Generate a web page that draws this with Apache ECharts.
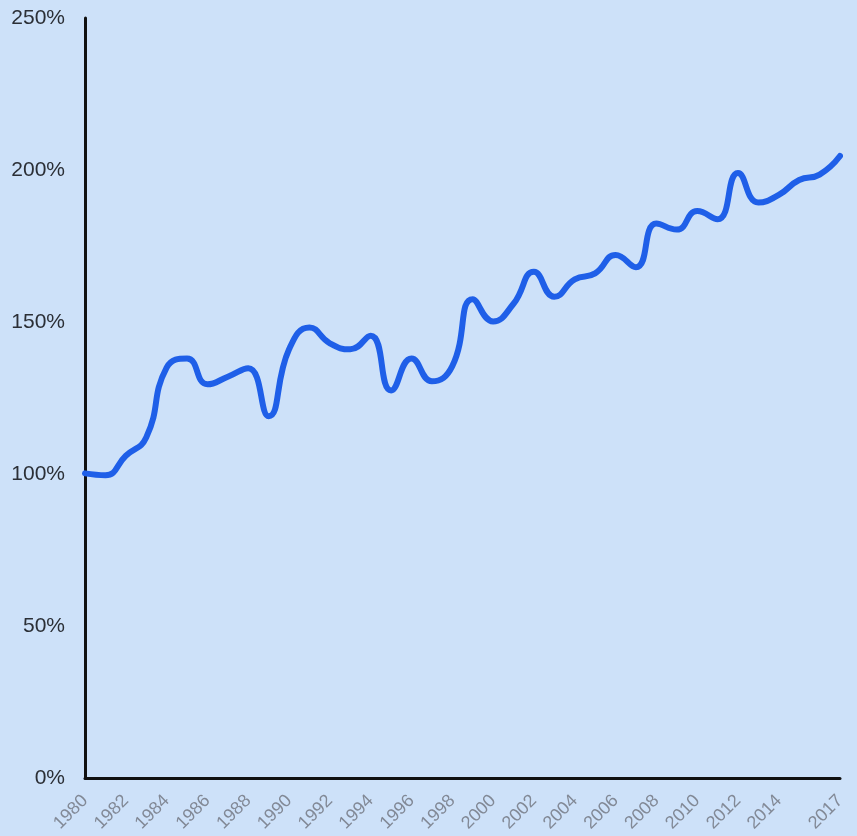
<!DOCTYPE html>
<html>
<head>
<meta charset="utf-8">
<script src="https://cdn.jsdelivr.net/npm/echarts@6/dist/echarts.min.js"></script>
<style>
html,body{margin:0;padding:0;background:#cde1f9;}
#chart{width:857px;height:836px;}
</style>
</head>
<body>
<div id="chart"></div>
<script>
const years = ['1980','1981','1982','1983','1984','1985','1986','1987','1988','1989',
  '1990','1991','1992','1993','1994','1995','1996','1997','1998','1999',
  '2000','2001','2002','2003','2004','2005','2006','2007','2008','2009',
  '2010','2011','2012','2013','2014','2015','2016','2017'];
const values = [100.2, 99.6, 106, 112, 135, 138, 129.5, 132, 134.8, 119,
  141, 148.2, 143, 141, 145.5, 127.5, 138, 130.5, 135.5, 157.5,
  150.2, 156, 166.5, 158.3, 164, 166, 172, 168, 182.4, 180.4,
  186.5, 183.8, 199, 189.3, 191.8, 196.7, 198.5, 204.6];
const shownLabels = ['1980','1982','1984','1986','1988','1990','1992','1994','1996','1998',
  '2000','2002','2004','2006','2008','2010','2012','2014','2017'];
const yTicks = [0, 50, 100, 150, 200, 250];

const chart = echarts.init(document.getElementById('chart'));
chart.setOption({
  backgroundColor: '#cde1f9',
  animation: false,
  grid: {left: 85, right: 17, top: 18, bottom: 58, containLabel: false},
  xAxis: {
    type: 'category',
    data: years,
    boundaryGap: false,
    axisLine: {show: true, lineStyle: {color: '#111', width: 3}},
    axisTick: {show: false},
    splitLine: {show: false},
    axisLabel: {
      rotate: 45,
      margin: 20,
      fontFamily: 'Liberation Sans, Arial, sans-serif',
      fontSize: 18,
      color: '#828996',
      interval: function (idx, val) { return shownLabels.indexOf(val) >= 0; }
    }
  },
  yAxis: {
    type: 'value',
    min: yTicks[0],
    max: yTicks[yTicks.length - 1],
    interval: 50,
    axisLine: {show: true, lineStyle: {color: '#111', width: 3}},
    axisTick: {show: false},
    splitLine: {show: false},
    axisLabel: {
      margin: 20,
      fontFamily: 'Liberation Sans, Arial, sans-serif',
      fontSize: 21,
      color: '#2b2f36',
      formatter: '{value}%'
    }
  },
  series: [{
    type: 'line',
    data: values,
    smooth: 0.5,
    symbol: 'none',
    lineStyle: {color: '#1f5fe8', width: 6, cap: 'round'}
  }]
});
</script>
</body>
</html>
